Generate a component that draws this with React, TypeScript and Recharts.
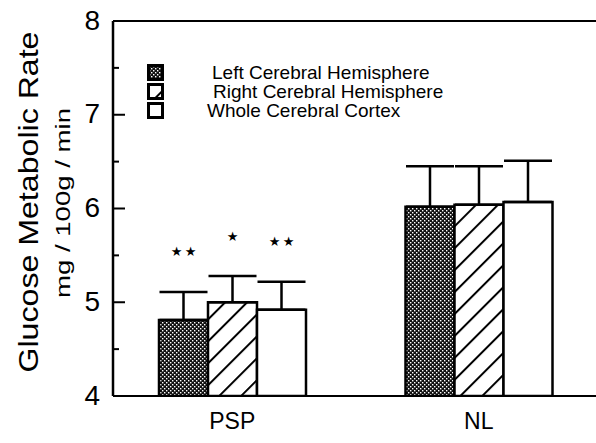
import React from 'react';
import { BarChart, Bar, XAxis, YAxis, ErrorBar, LabelList, ReferenceLine, Legend } from 'recharts';

const categories = ['PSP', 'NL'];
const leftHemisphere = [4.81, 6.02];
const rightHemisphere = [5.0, 6.04];
const wholeCortex = [4.92, 6.07];
const leftErr = [0.3, 0.43];
const rightErr = [0.28, 0.41];
const wholeErr = [0.3, 0.44];
const leftStars = ['**', ''];
const rightStars = ['*', ''];
const wholeStars = ['**', ''];
const seriesNames = ['Left Cerebral Hemisphere', 'Right Cerebral Hemisphere', 'Whole Cerebral Cortex'];
const yTicks = [4, 4.5, 5, 5.5, 6, 6.5, 7, 7.5, 8];
const yTitle = 'Glucose Metabolic Rate';
const ySubtitle = 'mg / 100g / min';

const FONT = '"Liberation Sans", Arial, Helvetica, sans-serif';

const data = categories.map((c, i) => ({
  cat: c,
  left: leftHemisphere[i],
  right: rightHemisphere[i],
  whole: wholeCortex[i],
  leftE: [0, leftErr[i]],
  rightE: [0, rightErr[i]],
  wholeE: [0, wholeErr[i]],
}));

const YTick = (props: any) => {
  const { x, y, payload } = props;
  const v = payload.value;
  const major = Number.isInteger(v);
  const axisX = x + 13;
  return (
    <g>
      {v !== 4 && v !== 8 && (
        <line x1={axisX} x2={axisX + (major ? 12 : 6)} y1={y} y2={y} stroke="#000" strokeWidth={2} />
      )}
      {major && (
        <text x={x} y={y - 1} textAnchor="end" dominantBaseline="central" fontSize={28} fontFamily={FONT} fill="#000">
          {v}
        </text>
      )}
    </g>
  );
};

const YTitle = () => (
  <g fontFamily={FONT} fill="#000">
    <text
      transform="translate(28,202) rotate(-90)"
      textAnchor="middle"
      dominantBaseline="central"
      fontSize={28}
      textLength={341}
      lengthAdjust="spacingAndGlyphs"
    >
      {yTitle}
    </text>
    <text
      transform="translate(62,203) rotate(-90)"
      textAnchor="middle"
      dominantBaseline="central"
      fontSize={21}
      textLength={190}
      lengthAdjust="spacingAndGlyphs"
    >
      {ySubtitle}
    </text>
  </g>
);

const makeStarLabel = (stars: string[], errs: number[], vals: number[]) => (props: any) => {
  const { x, y, width, height, index } = props;
  const s = stars[index];
  if (!s) return null;
  const pxPerUnit = height / (vals[index] - 4);
  const cy = y - errs[index] * pxPerUnit - 40;
  const cx = x + width / 2;
  const n = s.length;
  return (
    <g>
      {Array.from({ length: n }).map((_, k) => (
        <text
          key={k}
          x={cx + (k - (n - 1) / 2) * 14}
          y={cy}
          textAnchor="middle"
          dominantBaseline="central"
          fontSize={13}
          fontFamily="DejaVu Sans"
          fill="#000"
        >
          ★
        </text>
      ))}
    </g>
  );
};

const Patterns = ({ prefix }: { prefix: string }) => (
  <defs>
    <pattern id={prefix + 'stipple'} width={4} height={4} patternUnits="userSpaceOnUse">
      <rect x={0} y={0} width={4} height={4} fill="#111" />
      <rect x={0} y={0} width={1.4} height={1.4} fill="#fff" />
      <rect x={2} y={2} width={1.4} height={1.4} fill="#fff" />
    </pattern>
    <pattern
      id={prefix + 'hatch'}
      width={15.5}
      height={15.5}
      patternUnits="userSpaceOnUse"
      patternTransform="rotate(45)"
    >
      <rect x={0} y={0} width={15.5} height={15.5} fill="#fff" />
      <line x1={1} y1={0} x2={1} y2={15.5} stroke="#000" strokeWidth={2} />
    </pattern>
  </defs>
);

const textOffsets = [48, 49, 43];

const LegendContent = () => {
  return (
    <div style={{ fontFamily: FONT, fontSize: 19, color: '#000' }}>
      {seriesNames.map((n, i) => (
        <div key={n} style={{ display: 'flex', alignItems: 'center', height: 19, whiteSpace: 'nowrap' }}>
          <svg width={17} height={17} style={{ display: 'block' }}>
            <Patterns prefix={'lg' + i} />
            <rect
              x={1.5}
              y={1.5}
              width={14}
              height={14}
              fill={i === 2 ? '#fff' : `url(#lg${i}${i === 0 ? 'stipple' : 'hatch'})`}
              stroke="#000"
              strokeWidth={3}
            />
          </svg>
          <span style={{ marginLeft: textOffsets[i] }}>{n}</span>
        </div>
      ))}
    </div>
  );
};

export default function App() {
  return (
    <div style={{ position: 'absolute', left: 0, top: 0, width: 596, height: 443, background: '#fff' }}>
      <BarChart
        width={596}
        height={443}
        data={data}
        margin={{ top: 21, right: 0, bottom: 0, left: 0 }}
        barGap={0}
        barSize={49}
      >
        <Patterns prefix="ch" />
        <XAxis
          dataKey="cat"
          axisLine={{ stroke: '#000', strokeWidth: 2 }}
          tickLine={false}
          tickSize={0}
          tickMargin={17}
          height={47}
          padding={{ left: -4, right: -6 }}
          tick={{ fontSize: 23, fill: '#000', fontFamily: FONT }}
        />
        <YAxis
          type="number"
          domain={[4, 8]}
          ticks={yTicks}
          interval={0}
          allowDataOverflow
          width={113}
          axisLine={{ stroke: '#000', strokeWidth: 2.5 }}
          tickLine={false}
          tickSize={0}
          tickMargin={13}
          tick={<YTick />}
          label={<YTitle />}
        />
        <ReferenceLine y={8} stroke="#000" strokeWidth={2} ifOverflow="visible" />
        <Legend
          layout="vertical"
          align="center"
          verticalAlign="middle"
          content={<LegendContent />}
          wrapperStyle={{ left: 147, top: 63, width: 330, height: 60 }}
        />
        <Bar dataKey="left" fill="url(#chstipple)" stroke="#000" strokeWidth={2.5} isAnimationActive={false}>
          <ErrorBar dataKey="leftE" width={24} stroke="#000" strokeWidth={2.5} />
          <LabelList dataKey="left" content={makeStarLabel(leftStars, leftErr, leftHemisphere)} />
        </Bar>
        <Bar dataKey="right" fill="url(#chhatch)" stroke="#000" strokeWidth={2.5} isAnimationActive={false}>
          <ErrorBar dataKey="rightE" width={24} stroke="#000" strokeWidth={2.5} />
          <LabelList dataKey="right" content={makeStarLabel(rightStars, rightErr, rightHemisphere)} />
        </Bar>
        <Bar dataKey="whole" fill="#fff" stroke="#000" strokeWidth={2.5} isAnimationActive={false}>
          <ErrorBar dataKey="wholeE" width={24} stroke="#000" strokeWidth={2.5} />
          <LabelList dataKey="whole" content={makeStarLabel(wholeStars, wholeErr, wholeCortex)} />
        </Bar>
      </BarChart>
    </div>
  );
}
